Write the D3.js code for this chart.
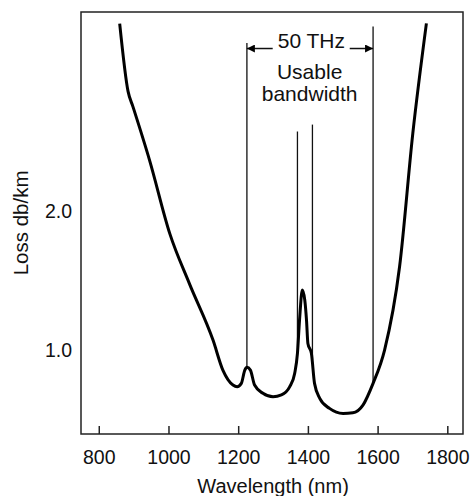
<!DOCTYPE html>
<html>
<head>
<meta charset="utf-8">
<script src="https://cdn.jsdelivr.net/npm/d3@7"></script>
<style>
	body { margin: 0; background: #fff; }
	svg { display: block; font-family: "Liberation Sans", Arial, sans-serif; }
</style>
</head>
<body>
<div id="chart"></div>
<script>
// curve: wavelength (nm) and loss (dB/km)
const wavelength = [860, 884, 898, 946, 1004, 1060, 1128, 1156, 1185, 1197, 1209, 1219, 1225, 1235, 1247, 1271, 1300, 1324, 1348, 1362, 1370, 1376, 1384, 1391, 1396, 1400, 1410, 1419, 1434, 1462, 1501, 1529, 1558, 1587, 1620, 1663, 1701, 1740];
const loss = [3.36, 2.87, 2.76, 2.37, 1.84, 1.48, 1.07, 0.855, 0.747, 0.735, 0.759, 0.855, 0.875, 0.855, 0.747, 0.687, 0.662, 0.675, 0.735, 0.831, 0.976, 1.217, 1.434, 1.362, 1.217, 1.048, 0.976, 0.759, 0.651, 0.578, 0.542, 0.546, 0.602, 0.759, 1.0, 1.602, 2.567, 3.362];

const xTicks = [800, 1000, 1200, 1400, 1600, 1800];
const yTicks = [1.0, 2.0];

// vertical marker lines
const markerX = [1225, 1370, 1413, 1587];
const markerTop = [3.22, 2.58, 2.63, 3.34];
const markerBottom = [0.875, 0.976, 0.93, 0.759];

// arrows around "50 THz"
const arrowFrom = [1299, 1520];
const arrowTo = [1225, 1587];
const arrowLoss = 3.18;

const w = 471;
const h = 496;
const margin = { top: 12, right: 8, bottom: 62, left: 81 };

const x = d3.scaleLinear()
	.domain([749, 1845])
	.range([margin.left, w - margin.right]);

const y = d3.scaleLinear()
	.domain([0.393, 3.444])
	.range([h - margin.bottom, margin.top]);

const svg = d3.select("#chart")
	.append("svg")
	.attr("width", w)
	.attr("height", h);

// arrowhead
svg.append("defs").append("marker")
	.attr("id", "head")
	.attr("viewBox", "0 0 10 10")
	.attr("refX", 10)
	.attr("refY", 5)
	.attr("markerUnits", "userSpaceOnUse")
	.attr("markerWidth", 11)
	.attr("markerHeight", 8)
	.attr("orient", "auto")
	.append("path")
	.attr("d", "M0,0L10,5L0,10Z")
	.attr("fill", "#000");

// frame
svg.append("rect")
	.attr("x", margin.left)
	.attr("y", margin.top)
	.attr("width", w - margin.left - margin.right)
	.attr("height", h - margin.top - margin.bottom)
	.attr("fill", "none")
	.attr("stroke", "#222")
	.attr("stroke-width", 1.5);

// x axis, ticks pointing inward
const xAxis = svg.append("g")
	.attr("transform", `translate(0, ${h - margin.bottom})`)
	.call(d3.axisBottom(x).tickValues(xTicks).tickSize(-8).tickPadding(16).tickFormat(d3.format("d")));
xAxis.select(".domain").remove();
xAxis.selectAll("line").attr("stroke", "#222").attr("stroke-width", 1.5);
xAxis.selectAll("text").attr("font-size", 19.5).attr("font-family", "Liberation Sans, Arial, sans-serif").attr("fill", "#111");

// y axis, labels only
const yAxis = svg.append("g")
	.attr("transform", `translate(${margin.left}, 0)`)
	.call(d3.axisLeft(y).tickValues(yTicks).tickSize(0).tickPadding(9).tickFormat(d3.format(".1f")));
yAxis.select(".domain").remove();
yAxis.selectAll("text").attr("font-size", 19.5).attr("font-family", "Liberation Sans, Arial, sans-serif").attr("fill", "#111");

// axis titles
svg.append("text")
	.text("Wavelength (nm)")
	.attr("x", x(1300))
	.attr("y", 493)
	.attr("text-anchor", "middle")
	.attr("font-size", 20)
	.attr("fill", "#111");

svg.append("text")
	.text("Loss db/km")
	.attr("transform", `translate(28, ${(y(2.0) + y(1.0)) / 2 - 58}) rotate(-90)`)
	.attr("text-anchor", "middle")
	.attr("font-size", 20.5)
	.attr("fill", "#111");

// marker lines
svg.selectAll(".marker")
	.data(markerX)
	.enter()
	.append("line")
	.attr("class", "marker")
	.attr("x1", d => x(d))
	.attr("x2", d => x(d))
	.attr("y1", (d, i) => y(markerTop[i]))
	.attr("y2", (d, i) => y(markerBottom[i]))
	.attr("stroke", "#111")
	.attr("stroke-width", 1.3);

// arrows
svg.selectAll(".arrow")
	.data(arrowFrom)
	.enter()
	.append("line")
	.attr("class", "arrow")
	.attr("x1", d => x(d))
	.attr("x2", (d, i) => x(arrowTo[i]))
	.attr("y1", y(arrowLoss))
	.attr("y2", y(arrowLoss))
	.attr("stroke", "#111")
	.attr("stroke-width", 1.5)
	.attr("marker-end", "url(#head)");

// annotation text
const note = svg.append("g").attr("text-anchor", "middle").attr("font-size", 21).attr("fill", "#111");
note.append("text").text("50 THz").attr("x", x(1410)).attr("y", 48);
note.append("text").text("Usable").attr("x", x(1405)).attr("y", 79);
note.append("text").text("bandwidth").attr("x", x(1405)).attr("y", 101);

// loss curve
const line = d3.line()
	.x(d => x(d[0]))
	.y(d => y(d[1]))
	.curve(d3.curveMonotoneX);

svg.append("path")
	.datum(wavelength.map((d, i) => [d, loss[i]]))
	.attr("d", line)
	.attr("fill", "none")
	.attr("stroke", "#000")
	.attr("stroke-width", 3)
	.attr("stroke-linejoin", "round");
</script>
</body>
</html>
